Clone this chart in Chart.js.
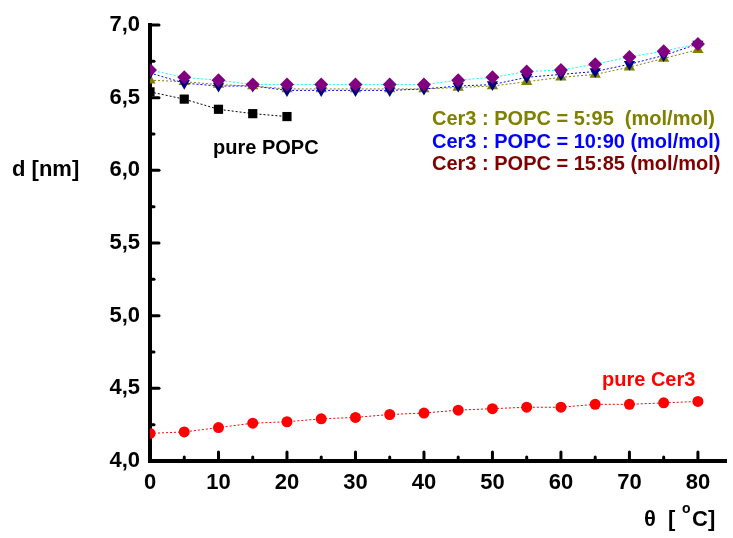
<!DOCTYPE html>
<html>
<head>
<meta charset="utf-8">
<script src="https://cdn.jsdelivr.net/npm/chart.js@4.4.1/dist/chart.umd.min.js"></script>
<style>
  html, body { margin: 0; padding: 0; background: #fff; }
  #wrap { width: 733px; height: 538px; }
</style>
</head>
<body>
<div id="wrap"><canvas id="chart" width="733" height="538"></canvas></div>
<script>
// temperatures (°C)
const temps = [0, 5, 10, 15, 20, 25, 30, 35, 40, 45, 50, 55, 60, 65, 70, 75, 80];
const tempsPopc = [0, 5, 10, 15, 20];

// d [nm]
const pureCer3 = [4.19, 4.20, 4.23, 4.26, 4.27, 4.29, 4.30, 4.32, 4.33, 4.35, 4.36, 4.37, 4.37, 4.39, 4.39, 4.40, 4.41];
const purePopc = [6.54, 6.49, 6.42, 6.39, 6.37];
const mix595 = [6.62, 6.61, 6.59, 6.58, 6.56, 6.56, 6.56, 6.56, 6.56, 6.57, 6.58, 6.61, 6.64, 6.66, 6.71, 6.77, 6.83];
const mix1090 = [6.67, 6.60, 6.58, 6.58, 6.55, 6.55, 6.55, 6.55, 6.56, 6.58, 6.59, 6.64, 6.66, 6.68, 6.73, 6.79, 6.87];
const mix1585 = [6.69, 6.64, 6.62, 6.59, 6.59, 6.59, 6.59, 6.59, 6.59, 6.62, 6.64, 6.68, 6.69, 6.73, 6.78, 6.82, 6.87];

// tick positions (major + minor)
const xTicks = [0, 5, 10, 15, 20, 25, 30, 35, 40, 45, 50, 55, 60, 65, 70, 75, 80];
const yTicks = [4.0, 4.25, 4.5, 4.75, 5.0, 5.25, 5.5, 5.75, 6.0, 6.25, 6.5, 6.75, 7.0];

const legendLines = [
  { text: "Cer3 : POPC = 5:95  (mol/mol)", color: "#808000" },
  { text: "Cer3 : POPC = 10:90 (mol/mol)", color: "#0000ff" },
  { text: "Cer3 : POPC = 15:85 (mol/mol)", color: "#800000" }
];

const FONT = "'Liberation Sans', Arial, sans-serif";

function toPoints(xs, ys) {
  return xs.map((x, i) => ({ x: x, y: ys[i] }));
}

function isMajorY(v) {
  return Math.abs(v * 2 - Math.round(v * 2)) < 1e-6;
}

function series(data, line, marker, style, radius, order, rotation) {
  return {
    data: data,
    borderColor: line,
    borderWidth: 1,
    borderDash: [2, 2],
    backgroundColor: marker,
    pointBackgroundColor: marker,
    pointBorderColor: marker,
    pointBorderWidth: 0,
    pointStyle: style,
    pointRadius: radius,
    pointRotation: rotation || 0,
    tension: 0,
    order: order
  };
}

// inward tick marks, major/minor
const innerTicks = {
  id: "innerTicks",
  afterDatasetsDraw(chart) {
    const ctx = chart.ctx;
    const xs = chart.scales.x, ys = chart.scales.y;
    const area = chart.chartArea;
    ctx.save();
    ctx.strokeStyle = "#000";
    ctx.lineWidth = 3;
    ctx.lineCap = "round";
    xs.ticks.forEach(t => {
      const major = t.value % 10 === 0;
      const px = xs.getPixelForValue(t.value);
      ctx.beginPath();
      ctx.moveTo(px, area.bottom);
      ctx.lineTo(px, area.bottom - (major ? 9 : 4));
      ctx.stroke();
    });
    ys.ticks.forEach(t => {
      const py = ys.getPixelForValue(t.value);
      ctx.beginPath();
      ctx.moveTo(area.left, py);
      ctx.lineTo(area.left + (isMajorY(t.value) ? 9 : 4), py);
      ctx.stroke();
    });
    ctx.restore();
  }
};

// axis titles, labels and legend text
const labels = {
  id: "labels",
  afterDraw(chart) {
    const ctx = chart.ctx;
    ctx.save();
    ctx.textBaseline = "alphabetic";
    ctx.textAlign = "left";

    ctx.fillStyle = "#000";
    ctx.font = "bold 22px " + FONT;
    ctx.fillText("d [nm]", 12, 176);

    // x axis title
    ctx.fillText("\u03b8", 644, 526);
    ctx.fillText("[", 668, 526);
    ctx.font = "bold 14px " + FONT;
    ctx.fillText("o", 682, 513);
    ctx.font = "bold 22px " + FONT;
    ctx.fillText("C]", 692, 526);

    ctx.font = "bold 20px " + FONT;
    ctx.fillText("pure POPC", 213, 154);
    ctx.fillStyle = "#ff0000";
    ctx.fillText("pure Cer3", 602, 386);

    legendLines.forEach((l, i) => {
      ctx.fillStyle = l.color;
      ctx.fillText(l.text, 432, 125 + i * 22.5);
    });
    ctx.restore();
  }
};

const ctx = document.getElementById("chart").getContext("2d");
new Chart(ctx, {
  type: "line",
  data: {
    datasets: [
      series(toPoints(temps, pureCer3), "#ff0000", "#ff0000", "circle", 5.5, 4),
      series(toPoints(tempsPopc, purePopc), "#000000", "#000000", "rect", 6.5, 3),
      series(toPoints(temps, mix595), "#808000", "#808000", "triangle", 6.5, 2),
      series(toPoints(temps, mix1090), "#0000ff", "#000080", "triangle", 6.5, 1, 180),
      series(toPoints(temps, mix1585), "#00ffff", "#800080", "rectRot", 7, 0)
    ]
  },
  options: {
    responsive: false,
    animation: false,
    layout: { padding: { top: 25, right: 0, left: 0, bottom: 0 } },
    plugins: {
      legend: { display: false },
      tooltip: { enabled: false }
    },
    scales: {
      x: {
        type: "linear",
        min: 0,
        max: 84.1,
        grid: { display: false, drawTicks: false, tickLength: 0 },
        border: { display: true, color: "#000", width: 4 },
        afterBuildTicks: s => { s.ticks = xTicks.map(v => ({ value: v })); },
        ticks: {
          autoSkip: false,
          maxRotation: 0,
          padding: 9,
          color: "#000",
          font: { family: FONT, size: 22, weight: "bold" },
          callback: v => (v % 10 === 0 ? String(v) : "")
        },
        afterFit: s => { s.height = 77; }
      },
      y: {
        type: "linear",
        min: 4,
        max: 7,
        grid: { display: false, drawTicks: false, tickLength: 0 },
        border: { display: true, color: "#000", width: 4 },
        afterBuildTicks: s => { s.ticks = yTicks.map(v => ({ value: v })); },
        ticks: {
          autoSkip: false,
          padding: 10,
          color: "#000",
          font: { family: FONT, size: 22, weight: "bold" },
          callback: v => (isMajorY(v) ? v.toFixed(1).replace(".", ",") : "")
        },
        afterFit: s => { s.width = 150; }
      }
    }
  },
  plugins: [innerTicks, labels]
});
</script>
</body>
</html>
